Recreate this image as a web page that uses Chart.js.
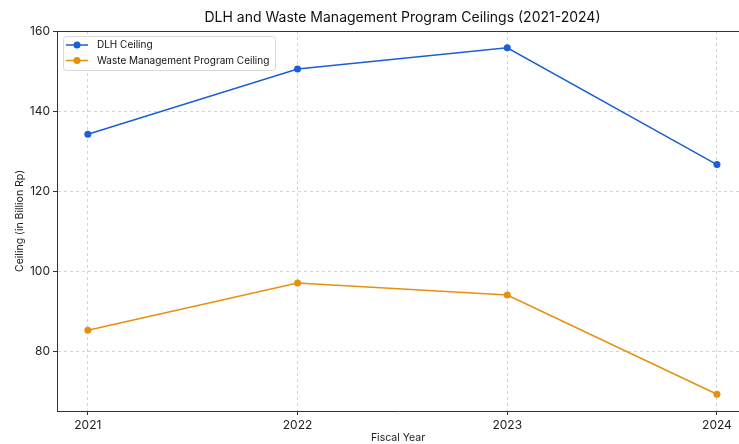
<!DOCTYPE html>
<html>
<head>
<meta charset="utf-8">
<script src="https://cdn.jsdelivr.net/npm/chart.js@4"></script>
<style>
  html, body { margin: 0; padding: 0; background: #fff; overflow: hidden; }
  #wrap { width: 739px; height: 444px; }
</style>
</head>
<body>
<div id="wrap"><canvas id="chart" width="739" height="444"></canvas></div>
<script>
// values
const years = [2021, 2022, 2023, 2024];
const dlhCeiling = [134.2, 150.5, 155.8, 126.6];
const wasteCeiling = [85.2, 97.0, 94.0, 69.2];
const yTicks = [80, 100, 120, 140, 160];

const FONT = 'Inter, "DejaVu Sans", sans-serif';
const BLUE = '#1a5fd6';
const ORANGE = '#e6900f';
const GRID = '#d4d4d4';
const SPINE = '#333333';

const titleText = 'DLH and Waste Management Program Ceilings (2021-2024)';

// draws title, top spine and the boxed legend
const extras = {
    id: 'extras',
    afterDraw(chart) {
        const ctx = chart.ctx;
        const a = chart.chartArea;
        ctx.save();
        // top spine
        ctx.strokeStyle = SPINE;
        ctx.lineWidth = 1;
        ctx.beginPath();
        ctx.moveTo(a.left, a.top + 0.5);
        ctx.lineTo(a.right, a.top + 0.5);
        ctx.stroke();

        // title (centred on the full axes width, which runs past the canvas)
        ctx.fillStyle = '#111';
        ctx.font = '14px ' + FONT;
        ctx.textAlign = 'center';
        ctx.textBaseline = 'middle';
        ctx.fillText(titleText, (a.left + 748) / 2, 18);

        // legend
        const items = chart.data.datasets;
        const x0 = a.left + 6, y0 = a.top + 5;
        const w = 212, h = 34;
        ctx.fillStyle = 'rgba(255,255,255,0.85)';
        ctx.strokeStyle = '#d8d8d8';
        ctx.beginPath();
        ctx.roundRect(x0 + 0.5, y0 + 0.5, w, h, 3);
        ctx.fill();
        ctx.stroke();
        ctx.font = '10px ' + FONT;
        ctx.textAlign = 'left';
        items.forEach((ds, i) => {
            const yy = y0 + 9 + i * 15.5;
            ctx.strokeStyle = ds.borderColor;
            ctx.lineWidth = 1.5;
            ctx.beginPath();
            ctx.moveTo(x0 + 3, yy);
            ctx.lineTo(x0 + 25, yy);
            ctx.stroke();
            ctx.fillStyle = ds.borderColor;
            ctx.beginPath();
            ctx.arc(x0 + 14, yy, 3.5, 0, Math.PI * 2);
            ctx.fill();
            ctx.fillStyle = '#111';
            ctx.fillText(ds.label, x0 + 34, yy);
        });
        ctx.restore();
    }
};

new Chart(document.getElementById('chart'), {
    type: 'line',
    data: {
        datasets: [
            {
                label: 'DLH Ceiling',
                data: years.map((y, i) => ({ x: y, y: dlhCeiling[i] })),
                borderColor: BLUE,
                backgroundColor: BLUE,
                borderWidth: 1.5,
                pointRadius: 3.5,
                pointBorderWidth: 0,
                tension: 0
            },
            {
                label: 'Waste Management Program Ceiling',
                data: years.map((y, i) => ({ x: y, y: wasteCeiling[i] })),
                borderColor: ORANGE,
                backgroundColor: ORANGE,
                borderWidth: 1.5,
                pointRadius: 3.5,
                pointBorderWidth: 0,
                tension: 0
            }
        ]
    },
    options: {
        responsive: false,
        animation: false,
        layout: { autoPadding: false, padding: { top: 31, right: 0, left: 0, bottom: 0 } },
        plugins: {
            legend: { display: false },
            title: { display: false },
            tooltip: { enabled: false }
        },
        scales: {
            x: {
                type: 'linear',
                min: 2020.853,
                max: 2024.105,
                afterBuildTicks: s => { s.ticks = years.map(v => ({ value: v })); },
                afterFit: s => { s.height = 33; s.paddingLeft = 0; s.paddingRight = 0; },
                ticks: {
                    callback: v => String(v),
                    color: '#222',
                    font: { family: FONT, size: 12 },
                    padding: 3,
                    maxRotation: 0
                },
                grid: {
                    color: GRID,
                    tickColor: SPINE,
                    tickLength: 4,
                    drawOnChartArea: true
                },
                border: { color: SPINE, dash: [3, 3], display: true },
                title: {
                    display: true,
                    text: 'Fiscal Year',
                    color: '#222',
                    font: { family: FONT, size: 10.5 },
                    padding: 0
                }
            },
            y: {
                min: 65,
                max: 160,
                afterBuildTicks: s => { s.ticks = yTicks.map(v => ({ value: v })); },
                afterFit: s => { s.width = 57; s.paddingTop = 0; s.paddingBottom = 0; },
                ticks: {
                    color: '#222',
                    font: { family: FONT, size: 12 },
                    padding: 3
                },
                grid: {
                    color: GRID,
                    tickColor: SPINE,
                    tickLength: 4
                },
                border: { color: SPINE, dash: [3, 3], display: true },
                title: {
                    display: true,
                    text: 'Ceiling (in Billion Rp)',
                    color: '#222',
                    font: { family: FONT, size: 10.5 },
                    padding: { top: 14 }
                }
            }
        }
    },
    plugins: [extras]
});
</script>
</body>
</html>
